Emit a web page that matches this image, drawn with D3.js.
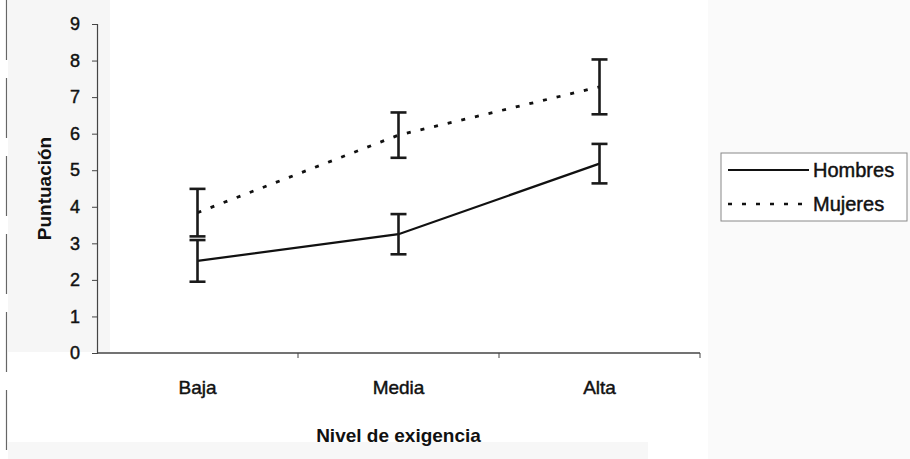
<!DOCTYPE html>
<html lang="es">
<head>
<meta charset="utf-8">
<title>Puntuación por nivel de exigencia</title>
<script src="https://d3js.org/d3.v7.min.js"></script>
<style>
  body { margin: 0; background: #fff; }
  svg text { font-family: "Liberation Sans", Arial, sans-serif; fill: #111; }
  svg text.thick { stroke: #111; stroke-width: 0.45px; }
  .axis path, .axis line { stroke: #444; }
</style>
</head>
<body>
<svg width="910" height="459"></svg>
<script>
// datos
var categories = ["Baja", "Media", "Alta"];
var seriesNames = ["Hombres", "Mujeres"];
var hombres = [2.52, 3.25, 5.18];
var hombresErr = [0.57, 0.55, 0.54];
var mujeres = [3.84, 5.96, 7.28];
var mujeresErr = [0.65, 0.62, 0.75];
var yTicks = [0, 1, 2, 3, 4, 5, 6, 7, 8, 9];

var svg = d3.select("svg"),
    margin = {top: 24, right: 210, bottom: 106, left: 97},
    width = +svg.attr("width") - margin.left - margin.right,
    height = +svg.attr("height") - margin.top - margin.bottom;

// fondo del escaneo
svg.append("rect").attr("x", 8).attr("y", 0).attr("width", 102).attr("height", 352).attr("fill", "#f6f6f6");
svg.append("rect").attr("x", 708).attr("y", 0).attr("width", 202).attr("height", 459).attr("fill", "#fafafa");
svg.append("rect").attr("x", 8).attr("y", 442).attr("width", 640).attr("height", 17).attr("fill", "#f7f7f7");
svg.append("line").attr("x1", 6.5).attr("x2", 6.5).attr("y1", 0).attr("y2", 459)
    .attr("stroke", "#666").attr("stroke-width", 1.2).attr("stroke-dasharray", "60,18");

var g = svg.append("g")
    .attr("transform", "translate(" + margin.left + "," + margin.top + ")");

g.append("rect").attr("x", 13).attr("width", width - 13).attr("height", height).attr("fill", "#fff");

var x = d3.scaleBand().domain(categories).range([0, width]);
var y = d3.scaleLinear().domain([0, 9]).range([height, 0]);
var cx = function(c) { return x(c) + x.bandwidth() / 2; };

// eje y
var yAxis = g.append("g")
    .attr("class", "axis")
    .call(d3.axisLeft(y).tickValues(yTicks).tickSize(5).tickPadding(12).tickFormat(d3.format("d")));
yAxis.select(".domain").attr("stroke-width", 1.2);
yAxis.selectAll("text").attr("class", "thick").style("font-size", "18px");

// eje x con marcas entre categorias
var xAxis = g.append("g")
    .attr("class", "axis")
    .attr("transform", "translate(0," + height + ")");
xAxis.append("line").attr("x1", 0).attr("x2", width).attr("stroke", "#777").attr("stroke-width", 1.5);
xAxis.selectAll(".tk")
    .data(d3.range(1, categories.length + 1))
    .enter().append("line")
      .attr("x1", function(i) { return i * x.bandwidth(); })
      .attr("x2", function(i) { return i * x.bandwidth(); })
      .attr("y1", 0).attr("y2", 5)
      .attr("stroke", "#888");
xAxis.selectAll(".cat")
    .data(categories)
    .enter().append("text")
      .attr("class", "thick")
      .attr("x", cx)
      .attr("y", 34)
      .attr("dy", "0.35em")
      .attr("text-anchor", "middle")
      .style("font-size", "19px")
      .text(function(d) { return d; });

// titulos
g.append("text")
    .attr("x", width / 2)
    .attr("y", height + 82)
    .attr("dy", "0.35em")
    .attr("text-anchor", "middle")
    .style("font-size", "19px")
    .style("font-weight", "bold")
    .text("Nivel de exigencia");

g.append("text")
    .attr("transform", "translate(-53," + (height / 2) + ") rotate(-90)")
    .attr("dy", "0.35em")
    .attr("text-anchor", "middle")
    .style("font-size", "19px")
    .style("font-weight", "bold")
    .text("Puntuación");

// series
var series = [
  {name: seriesNames[0], values: hombres, err: hombresErr, dash: null},
  {name: seriesNames[1], values: mujeres, err: mujeresErr, dash: "4,10"}
];

var line = d3.line()
    .x(function(d, i) { return cx(categories[i]); })
    .y(function(d) { return y(d); });

series.forEach(function(s) {
  g.append("path")
      .datum(s.values)
      .attr("fill", "none")
      .attr("stroke", "#111")
      .attr("stroke-width", s.dash ? 2.8 : 2.2)
      .attr("stroke-dasharray", s.dash)
      .attr("d", line);

  var eb = g.append("g").selectAll("g")
      .data(s.values)
      .enter().append("g")
      .attr("stroke", "#1a1a1a")
      .attr("stroke-width", 2.6);
  eb.append("line")
      .attr("x1", function(d, i) { return cx(categories[i]); })
      .attr("x2", function(d, i) { return cx(categories[i]); })
      .attr("y1", function(d, i) { return y(d + s.err[i]); })
      .attr("y2", function(d, i) { return y(d - s.err[i]); });
  [1, -1].forEach(function(sign) {
    eb.append("line")
        .attr("x1", function(d, i) { return cx(categories[i]) - 8; })
        .attr("x2", function(d, i) { return cx(categories[i]) + 8; })
        .attr("y1", function(d, i) { return y(d + sign * s.err[i]); })
        .attr("y2", function(d, i) { return y(d + sign * s.err[i]); });
  });
});

// leyenda
var legend = svg.append("g").attr("transform", "translate(721,153)");
legend.append("rect")
    .attr("width", 186).attr("height", 68)
    .attr("fill", "#fff")
    .attr("stroke", "#888")
    .attr("stroke-width", 1);
var item = legend.selectAll(".item")
    .data(series)
    .enter().append("g")
    .attr("transform", function(d, i) { return "translate(0," + (17 + i * 34) + ")"; });
item.append("line")
    .attr("x1", 7).attr("x2", 88)
    .attr("stroke", "#111")
    .attr("stroke-width", function(d) { return d.dash ? 2.6 : 2.2; })
    .attr("stroke-dasharray", function(d) { return d.dash; });
item.append("text")
    .attr("class", "thick")
    .attr("x", 92)
    .attr("dy", "0.35em")
    .style("font-size", "20px")
    .text(function(d) { return d.name; });
</script>
</body>
</html>
